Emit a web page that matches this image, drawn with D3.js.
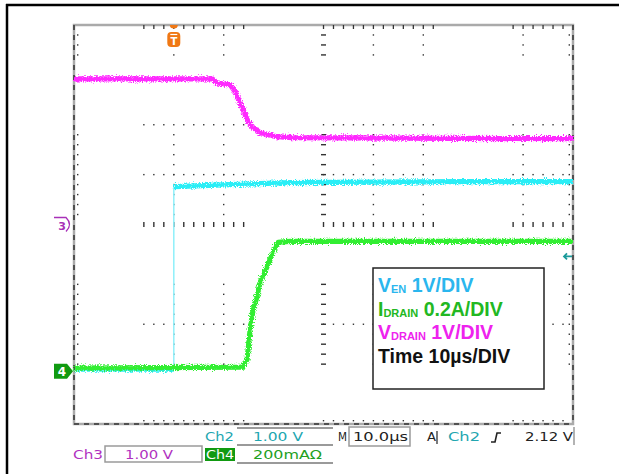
<!DOCTYPE html>
<html>
<head>
<meta charset="utf-8">
<script src="https://d3js.org/d3.v7.min.js"></script>
<style>
  body { margin: 0; background: #fff; }
  svg { display: block; }
</style>
</head>
<body>
<script>
var svgWidth = 619;
var svgHeight = 474;

// scope screen area
var plot = { left: 74, top: 25, width: 499, height: 399 };

// time in µs (10 µs/div, 10 divs)
var timeDomain = [0, 100];

// Ch3 V_DRAIN (magenta), 1 V/div
var drainVoltTime = [0, 27.7, 28.7, 31.3, 32.3, 33.3, 34.3, 34.9, 35.9, 37.3, 40.7, 43.9, 65.3, 100];
var drainVolt = [2.92, 2.92, 2.84, 2.80, 2.66, 2.44, 2.20, 2.06, 1.94, 1.84, 1.76, 1.74, 1.73, 1.72];

// Ch2 V_EN (cyan), 1 V/div
var enTime = [0, 20, 20, 31.3, 43.3, 77.4, 100];
var enVolt = [0.04, 0.04, 3.70, 3.74, 3.78, 3.80, 3.80];

// Ch4 I_DRAIN (green), 0.2 A/div
var drainCurTime = [0, 33.9, 34.7, 35.3, 35.9, 36.7, 37.3, 38.7, 39.9, 40.9, 43.3, 100];
var drainCur = [0.012, 0.016, 0.048, 0.168, 0.248, 0.30, 0.356, 0.42, 0.476, 0.516, 0.52, 0.52];

// channel settings: units per div and ground offset in divs
var ch2 = { perDiv: 1, offset: -2.94 };
var ch3 = { perDiv: 1, offset: 0 };
var ch4 = { perDiv: 0.2, offset: -2.94 };

var triggerTime = 20;
var trigLevelDiv = -0.64;

// graticule pieces that came out in the print (in divisions)
var xBands = [[1.4, 3.4], [5.0, 7.2], [8.8, 9.8]];
var yBands = [[3.4, 3.8], [0.2, 1.8], [-2.8, -1.2]];
var gridRows = [2, 1, -2];
var gridCols = [2, 3, 6, 7, 9];

var legendLines = [
  { main: "V", sub: "EN", rest: " 1V/DIV", color: "#2ab6ee" },
  { main: "I", sub: "DRAIN", rest: " 0.2A/DIV", color: "#22b822" },
  { main: "V", sub: "DRAIN", rest: " 1V/DIV", color: "#ee22ee" },
  { main: "Time 10µs/DIV", sub: "", rest: "", color: "#111" }
];

var svg = d3.select("body")
  .append("svg")
  .attr("width", svgWidth)
  .attr("height", svgHeight);

// noisy trace look
var defs = svg.append("defs");
var filt = defs.append("filter")
  .attr("id", "noise")
  .attr("filterUnits", "userSpaceOnUse")
  .attr("x", 0).attr("y", 0)
  .attr("width", svgWidth).attr("height", svgHeight);
filt.append("feTurbulence")
  .attr("type", "fractalNoise")
  .attr("baseFrequency", 0.9)
  .attr("numOctaves", 2)
  .attr("seed", 3)
  .attr("result", "n");
filt.append("feDisplacementMap")
  .attr("in", "SourceGraphic")
  .attr("in2", "n")
  .attr("scale", 6)
  .attr("xChannelSelector", "R")
  .attr("yChannelSelector", "G");

// outer frame
svg.append("line").attr("x1", 6).attr("x2", 619).attr("y1", 5).attr("y2", 5)
  .attr("stroke", "#000").attr("stroke-width", 2.5);
svg.append("line").attr("x1", 7).attr("x2", 7).attr("y1", 4).attr("y2", 474)
  .attr("stroke", "#000").attr("stroke-width", 2.5);

// scales
var xScale = d3.scaleLinear().domain(timeDomain).range([plot.left, plot.left + plot.width]);
var xDiv = d3.scaleLinear().domain([0, 10]).range([plot.left, plot.left + plot.width]);
var yDiv = d3.scaleLinear().domain([-4, 4]).range([plot.top + plot.height, plot.top]);

function steps(band) {
  var out = [];
  for (var v = band[0]; v <= band[1] + 1e-6; v += 0.2) out.push(+v.toFixed(2));
  return out;
}
var xTicks = [].concat(...xBands.map(steps));
var yTicks = [].concat(...yBands.map(steps));

var grat = svg.append("g");
var dark = "#333";

// border
grat.append("rect")
  .attr("x", plot.left).attr("y", plot.top)
  .attr("width", plot.width).attr("height", plot.height)
  .attr("fill", "none").attr("stroke", "#aaa").attr("stroke-width", 2.5);

var x0 = plot.left, x1 = plot.left + plot.width, y0 = plot.top, y1 = plot.top + plot.height;
[[x0, y0, x0, y1], [x1, y0, x1, y1], [x0, y1, x1, y1]].forEach(s => {
  grat.append("line")
    .attr("x1", s[0]).attr("y1", s[1]).attr("x2", s[2]).attr("y2", s[3])
    .attr("stroke", dark).attr("stroke-width", 1.5)
    .attr("stroke-dasharray", "5,5");
});

// border minor ticks
grat.selectAll(".tt").data(xTicks).join("line")
  .attr("x1", d => xDiv(d)).attr("x2", d => xDiv(d))
  .attr("y1", y0).attr("y2", y0 + 4)
  .attr("stroke", dark).attr("stroke-width", 1.3);
grat.selectAll(".bt").data(xTicks).join("rect")
  .attr("x", d => xDiv(d) - 0.7).attr("y", y1 - 4)
  .attr("width", 1.4).attr("height", 1.4).attr("fill", dark);
grat.selectAll(".lt").data(yTicks).join("rect")
  .attr("x", x0 + 3).attr("y", d => yDiv(d) - 0.7)
  .attr("width", 1.4).attr("height", 1.4).attr("fill", dark);
grat.selectAll(".rt").data(yTicks).join("rect")
  .attr("x", x1 - 4.4).attr("y", d => yDiv(d) - 0.7)
  .attr("width", 1.4).attr("height", 1.4).attr("fill", dark);

// dotted grid rows and columns
gridRows.forEach(r => {
  grat.append("g").selectAll("rect").data(xTicks).join("rect")
    .attr("x", d => xDiv(d) - 0.7).attr("y", yDiv(r) - 0.7)
    .attr("width", 1.4).attr("height", 1.4).attr("fill", dark);
});
gridCols.forEach(c => {
  grat.append("g").selectAll("rect").data(yTicks).join("rect")
    .attr("x", xDiv(c) - 0.7).attr("y", d => yDiv(d) - 0.7)
    .attr("width", 1.4).attr("height", 1.4).attr("fill", dark);
});

// center cross with minor ticks
grat.append("g").selectAll("rect").data(xTicks).join("rect")
  .attr("x", d => xDiv(d) - 0.7).attr("y", yDiv(0) - 2.5)
  .attr("width", 1.4).attr("height", 5).attr("fill", dark);
grat.append("g").selectAll("rect").data(yTicks).join("rect")
  .attr("x", xDiv(5) - 2.5).attr("y", d => yDiv(d) - 0.7)
  .attr("width", 5).attr("height", 1.4).attr("fill", dark);

// traces
function drawTrace(times, values, ch, color, edgeColor) {
  var pts = times.map((t, i) => ({ t: t, v: values[i] }));
  var runs = [[pts[0]]];
  var edges = [];
  for (var i = 1; i < pts.length; i++) {
    if (pts[i].t === pts[i - 1].t) {
      edges.push([pts[i - 1], pts[i]]);
      runs.push([pts[i]]);
    } else {
      runs[runs.length - 1].push(pts[i]);
    }
  }
  var line = d3.line()
    .x(d => xScale(d.t))
    .y(d => yDiv(d.v / ch.perDiv + ch.offset));

  var g = svg.append("g");
  g.selectAll(".edge").data(edges).join("path")
    .attr("d", line)
    .attr("fill", "none")
    .attr("stroke", edgeColor)
    .attr("stroke-width", 1.5);
  g.selectAll(".run").data(runs.filter(r => r.length > 1)).join("path")
    .attr("d", line)
    .attr("fill", "none")
    .attr("stroke", color)
    .attr("stroke-width", 5.2)
    .attr("stroke-linejoin", "round")
    .attr("filter", "url(#noise)");
}

drawTrace(enTime, enVolt, ch2, "#2aeef6", "#8ef0fa");
drawTrace(drainCurTime, drainCur, ch4, "#33ee33", "#33ee33");
drawTrace(drainVoltTime, drainVolt, ch3, "#ff2cff", "#ff2cff");

// trigger marker
var tx = xScale(triggerTime);
svg.append("path")
  .attr("d", `M${tx - 4},${y0} A4,3.5 0 0 0 ${tx + 4},${y0} Z`)
  .attr("fill", "#f07814");
svg.append("rect")
  .attr("x", tx - 6.5).attr("y", y0 + 7)
  .attr("width", 13).attr("height", 15).attr("rx", 4)
  .attr("fill", "#f07814");
svg.append("line")
  .attr("x1", tx - 3.5).attr("x2", tx + 3.5).attr("y1", y0 + 9.5).attr("y2", y0 + 9.5)
  .attr("stroke", "#fff").attr("stroke-width", 1.2);
svg.append("text")
  .attr("x", tx).attr("y", y0 + 20)
  .attr("text-anchor", "middle")
  .attr("font-family", "DejaVu Sans")
  .attr("font-weight", "bold")
  .attr("font-size", 10)
  .attr("fill", "#fff")
  .text("T");

// Ch3 ground marker
var c3y = yDiv(ch3.offset);
svg.append("path")
  .attr("d", `M54,${c3y - 7} L66,${c3y - 7} Q73,${c3y} 66,${c3y + 7}`)
  .attr("fill", "none").attr("stroke", "#a830b8").attr("stroke-width", 1.4);
svg.append("text")
  .attr("x", 62).attr("y", c3y + 5)
  .attr("text-anchor", "middle")
  .attr("font-family", "DejaVu Sans")
  .attr("font-weight", "bold")
  .attr("font-size", 11)
  .attr("fill", "#a830b8")
  .text("3");

// Ch4 ground marker
var c4y = yDiv(ch4.offset);
svg.append("path")
  .attr("d", `M54,${c4y - 7.5} L67,${c4y - 7.5} L73,${c4y} L67,${c4y + 7.5} L54,${c4y + 7.5} Z`)
  .attr("fill", "#119a11");
svg.append("text")
  .attr("x", 62).attr("y", c4y + 4.5)
  .attr("text-anchor", "middle")
  .attr("font-family", "DejaVu Sans")
  .attr("font-weight", "bold")
  .attr("font-size", 12)
  .attr("fill", "#fff")
  .text("4");

// trigger level arrow
var ty = yDiv(trigLevelDiv);
svg.append("path")
  .attr("d", `M${x1 - 1},${ty} L${x1 - 9},${ty} M${x1 - 6},${ty - 3} L${x1 - 9},${ty} L${x1 - 6},${ty + 3}`)
  .attr("fill", "none").attr("stroke", "#1a9a9a").attr("stroke-width", 1.8);

// legend box
var legend = svg.append("g");
legend.append("rect")
  .attr("x", 373).attr("y", 268)
  .attr("width", 171).attr("height", 121)
  .attr("fill", "#fff").attr("stroke", "#222").attr("stroke-width", 1.5);

legend.selectAll("text").data(legendLines).join("text")
  .attr("x", 378)
  .attr("y", (d, i) => 292 + i * 23.7)
  .attr("font-family", "Liberation Sans, Arial, sans-serif")
  .attr("font-weight", "bold")
  .attr("font-size", 19.5)
  .attr("fill", d => d.color)
  .each(function(d) {
    var t = d3.select(this);
    t.append("tspan").text(d.main);
    if (d.sub) {
      t.append("tspan").attr("font-size", 11).attr("dy", 1).text(d.sub);
      t.append("tspan").attr("dy", -1).text(d.rest);
    }
  });

// status readout along the bottom
var readout = svg.append("g")
  .attr("font-family", "DejaVu Sans")
  .attr("font-size", 12);

var gray = "#9a9a9a";
[428, 445, 463].forEach(yy => {
  readout.append("line")
    .attr("x1", 237).attr("x2", 333).attr("y1", yy).attr("y2", yy)
    .attr("stroke", gray).attr("stroke-width", 2);
});
readout.append("rect")
  .attr("x", 349).attr("y", 427).attr("width", 61).attr("height", 19)
  .attr("fill", "none").attr("stroke", gray).attr("stroke-width", 1.5);
readout.append("rect")
  .attr("x", 105).attr("y", 446).attr("width", 97).attr("height", 16)
  .attr("fill", "none").attr("stroke", gray).attr("stroke-width", 1.5);
readout.append("line")
  .attr("x1", 574).attr("x2", 574).attr("y1", 427).attr("y2", 445)
  .attr("stroke", gray).attr("stroke-width", 1.5);
readout.append("rect")
  .attr("x", 205).attr("y", 448).attr("width", 30).attr("height", 13)
  .attr("fill", "#119a11");

var readoutText = [
  { s: "Ch2", x: 205, y: 441, w: 29, c: "#22a6b0" },
  { s: "1.00 V", x: 253, y: 441, w: 50, c: "#22a6b0" },
  { s: "M", x: 338, y: 441, w: 9, c: "#222" },
  { s: "10.0µs", x: 353, y: 441, w: 55, c: "#222" },
  { s: "A", x: 427, y: 441, w: 9, c: "#222" },
  { s: "Ch2", x: 448, y: 441, w: 32, c: "#22a6b0" },
  { s: "2.12 V", x: 525, y: 441, w: 48, c: "#222" },
  { s: "Ch3", x: 73, y: 459, w: 30, c: "#b030c0" },
  { s: "1.00 V", x: 125, y: 459, w: 48, c: "#b030c0" },
  { s: "Ch4", x: 206, y: 459, w: 28, c: "#fff" },
  { s: "200mAΩ", x: 253, y: 459, w: 69, c: "#22a022" }
];
readout.selectAll("text").data(readoutText).join("text")
  .attr("x", d => d.x).attr("y", d => d.y)
  .attr("textLength", d => d.w)
  .attr("lengthAdjust", "spacingAndGlyphs")
  .attr("fill", d => d.c)
  .text(d => d.s);

// rising-edge symbol and A| bar
readout.append("path")
  .attr("d", "M491,442 L495,442 L497,433 L501,433")
  .attr("fill", "none").attr("stroke", "#222").attr("stroke-width", 1.6);
readout.append("line")
  .attr("x1", 437).attr("x2", 437).attr("y1", 431).attr("y2", 444)
  .attr("stroke", "#222").attr("stroke-width", 1.2);
</script>
</body>
</html>
